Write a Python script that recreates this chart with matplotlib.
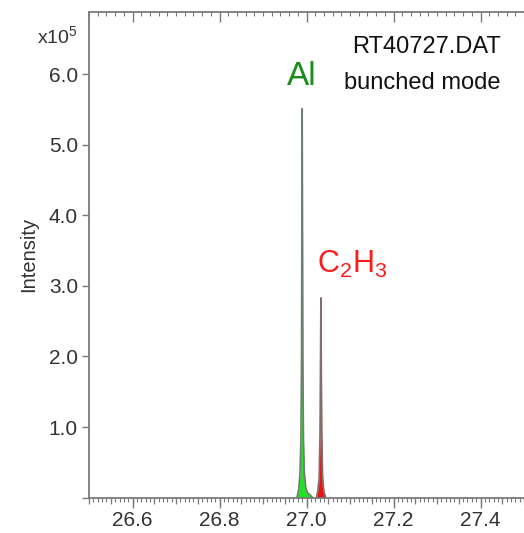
import matplotlib
matplotlib.use('Agg')
import matplotlib.pyplot as plt
from matplotlib.ticker import MultipleLocator, NullFormatter

plt.rcParams['font.family'] = ['Liberation Sans', 'DejaVu Sans']
plt.rcParams['mathtext.fontset'] = 'custom'
plt.rcParams['mathtext.rm'] = 'Liberation Sans'
plt.rcParams['mathtext.default'] = 'regular'

# Al peak profile (mass in u, intensity in 1e5 counts)
al_mass = [26.978, 26.982, 26.985, 26.987, 26.9885, 26.9893, 26.990,
           26.9907, 26.9915, 26.993, 26.995, 26.998, 27.002, 27.008, 27.014]
al_int = [0.0, 0.12, 0.35, 0.8, 2.0, 4.0, 5.51,
          4.0, 2.0, 0.8, 0.35, 0.15, 0.07, 0.04, 0.0]

# C2H3 peak profile
c2h3_mass = [27.023, 27.026, 27.029, 27.031, 27.0322, 27.033,
             27.0338, 27.035, 27.037, 27.040, 27.044]
c2h3_int = [0.0, 0.1, 0.28, 0.9, 2.0, 2.83,
            2.0, 0.9, 0.28, 0.08, 0.0]

y_ticks = [0, 1, 2, 3, 4, 5, 6]
y_labels = ['', '1.0', '2.0', '3.0', '4.0', '5.0', '6.0']
x_ticks = [26.6, 26.8, 27.0, 27.2, 27.4]

spine_col = '#7a7a7a'
text_col = '#333333'

fig = plt.figure(figsize=(5.24, 5.33), dpi=100)
ax = fig.add_axes([0.170, 0.0664, 0.83, 0.911])

ax.fill_between(al_mass, al_int, color='#22e022', lw=0, zorder=2)
ax.plot(al_mass, al_int, color='#6f7f6f', lw=1.2, zorder=3)
ax.fill_between(c2h3_mass, c2h3_int, color='#ee1111', lw=0, zorder=2)
ax.plot(c2h3_mass, c2h3_int, color='#7f6f6f', lw=1.2, zorder=3)

ax.set_xlim(26.5, 27.5)
ax.set_ylim(0, 6.88)

ax.spines['right'].set_visible(False)
for side in ['left', 'bottom', 'top']:
    ax.spines[side].set_color(spine_col)
    ax.spines[side].set_linewidth(1.3)

ax.set_xticks(x_ticks)
ax.set_xticklabels([f'{v:.1f}' for v in x_ticks])
ax.xaxis.set_minor_locator(MultipleLocator(0.01))
ax.tick_params(axis='x', which='major', direction='out', length=7, width=1,
               color=spine_col, labelsize=15, labelcolor=text_col, pad=3)
ax.tick_params(axis='x', which='minor', direction='out', length=3, width=0.8,
               color=spine_col)

# medium ticks on the bottom every 0.05
mid = ax.secondary_xaxis('bottom')
mid.xaxis.set_major_locator(MultipleLocator(0.05))
mid.xaxis.set_major_formatter(NullFormatter())
mid.tick_params(direction='out', length=4.5, width=0.9, color=spine_col)
mid.spines['bottom'].set_visible(False)

# inward ticks along the top
top = ax.secondary_xaxis('top')
top.xaxis.set_minor_locator(MultipleLocator(0.02))
top.set_xticks(x_ticks)
top.xaxis.set_major_formatter(NullFormatter())
top.tick_params(which='major', direction='in', length=7, width=1, color=spine_col)
top.tick_params(which='minor', direction='in', length=3, width=0.8, color=spine_col)
top.spines['top'].set_visible(False)

ax.set_yticks(y_ticks)
ax.set_yticklabels(y_labels)
ax.tick_params(axis='y', direction='out', length=5, width=1, color=spine_col,
               labelsize=15, labelcolor=text_col, pad=3)
ax.set_ylabel('Intensity', fontsize=14.5, color=text_col, labelpad=8)

fig.text(0.070, 0.932, r'x10$^{5}$', fontsize=14, color=text_col,
         ha='left', va='center')

ax.text(0.947, 0.928, 'RT40727.DAT', transform=ax.transAxes, fontsize=17,
        color='#111111', ha='right', va='center')
ax.text(0.947, 0.853, 'bunched mode', transform=ax.transAxes, fontsize=17,
        color='#111111', ha='right', va='center')
ax.text(26.990, 5.96, 'Al', fontsize=24, color='#1a8c1a', ha='center',
        va='center')
ax.text(27.105, 3.31, r'C$_2$H$_3$', fontsize=22, color='#ff1a1a',
        ha='center', va='center')

plt.savefig('out.png', dpi=100)
plt.close(fig)
